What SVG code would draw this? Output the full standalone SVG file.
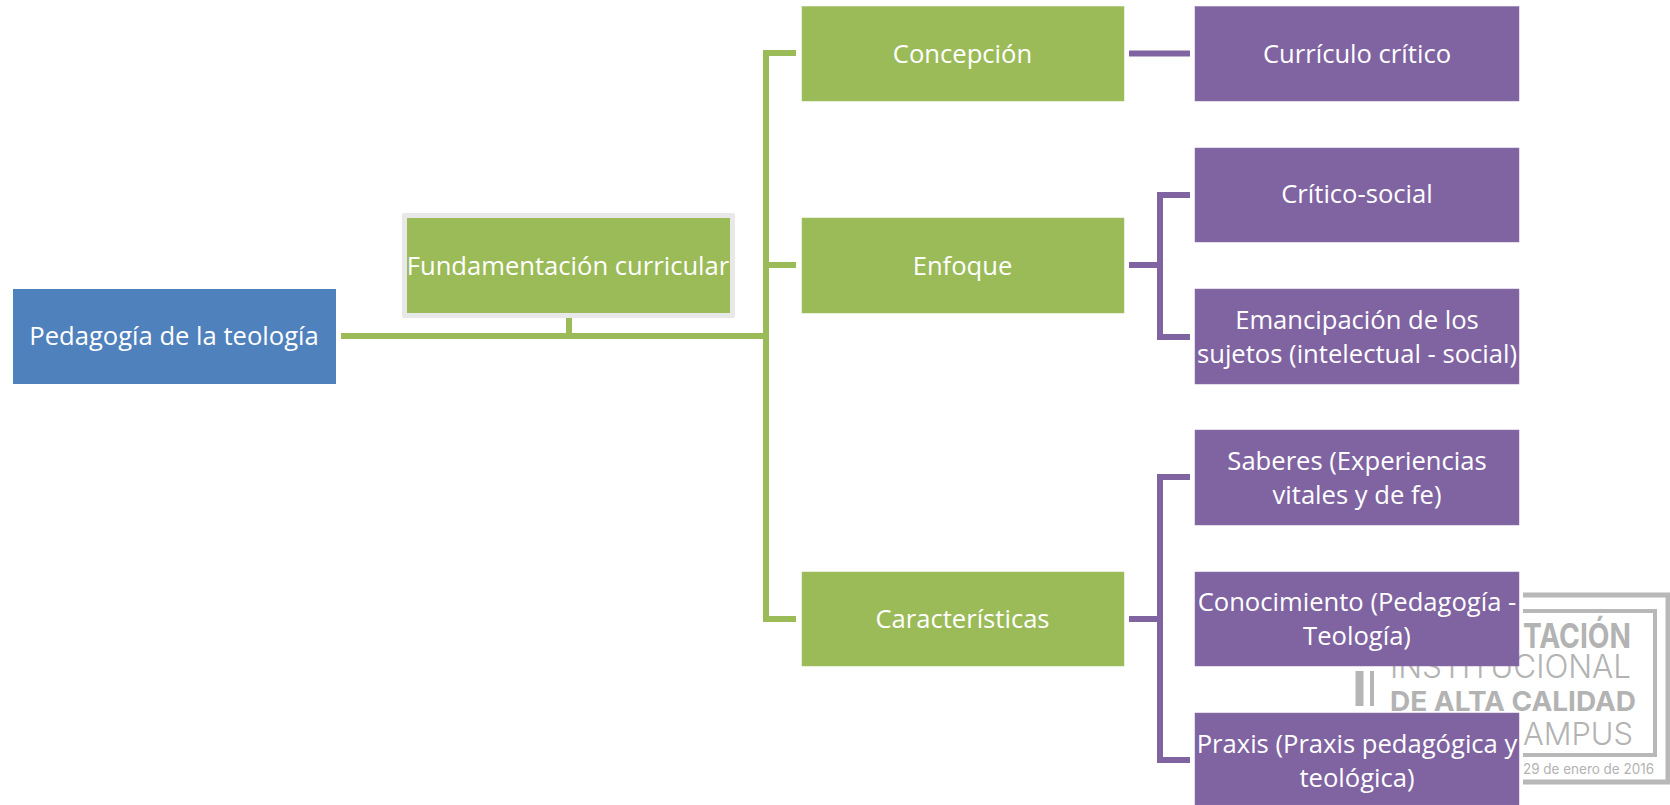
<svg xmlns="http://www.w3.org/2000/svg" width="1670" height="805" viewBox="0 0 1670 805">
<style>
.t{font-family:"Open Sans","Noto Sans",sans-serif;font-size:25.6px;fill:#fff;text-anchor:middle}
.g{fill:#9bbb59;stroke:#a3c067;stroke-width:.5}
.p{fill:#8064a2;stroke:#8a70a9;stroke-width:.5}
.cg{stroke:#9bbb59;stroke-width:6;fill:none}
.cp{stroke:#8064a2;stroke-width:6;fill:none}
.w{font-family:"Inter","Liberation Sans",sans-serif;fill:#b3b3b3}
</style>
<rect width="1670" height="805" fill="#fff"/>
<g id="watermark">
<path d="M1523 595H1668V782H1523" fill="none" stroke="#b8b8b8" stroke-width="5"/>
<path d="M1523 611H1655V755H1523" fill="none" stroke="#b8b8b8" stroke-width="4"/>
<path d="M1359.500 671V706" stroke="#b5b5b5" stroke-width="8"/>
<path d="M1372 671V706" stroke="#b5b5b5" stroke-width="4"/>
<text class="w" x="1523" y="648" font-size="34" font-weight="700" textLength="108" lengthAdjust="spacingAndGlyphs">TACIÓN</text>
<text class="w" x="1390" y="678" font-size="32" font-weight="300" textLength="241" lengthAdjust="spacingAndGlyphs">INSTITUCIONAL</text>
<text class="w" x="1390" y="711" font-size="27" font-weight="700" textLength="246" lengthAdjust="spacingAndGlyphs">DE ALTA CALIDAD</text>
<text class="w" x="1523" y="745" font-size="31" font-weight="300" textLength="110" lengthAdjust="spacingAndGlyphs">AMPUS</text>
<text class="w" x="1523" y="774" font-size="14" textLength="131" lengthAdjust="spacingAndGlyphs">29 de enero de 2016</text>
</g>
<g id="connectors">
<path class="cg" d="M341 336H766M569 318V336M796 53H766V619H796M766 265H796"/>
<path class="cp" d="M1129 53.500H1190"/>
<path class="cp" d="M1129 265H1160M1190 195H1160V337H1190"/>
<path class="cp" d="M1129 619H1160M1190 477H1160V760H1190"/>
</g>
<g id="n-pedagogia"><rect x="13" y="289" width="323" height="95" fill="#4f81bd"/><text class="t" x="174" y="345">Pedagogía de la teología</text></g>
<g id="n-fundamentacion"><rect x="402" y="213" width="333" height="105" rx="2" fill="#e8e8e8"/><rect x="407" y="218" width="323" height="95" fill="#9bbb59"/><text class="t" x="568" y="275">Fundamentación curricular</text></g>
<g id="n-concepcion"><rect class="g" x="802" y="6.500" width="322" height="94.500"/><text class="t" x="962.500" y="63">Concepción</text></g>
<g id="n-enfoque"><rect class="g" x="802" y="218" width="322" height="95"/><text class="t" x="962.500" y="275">Enfoque</text></g>
<g id="n-caracteristicas"><rect class="g" x="802" y="572" width="322" height="94"/><text class="t" x="962.500" y="628">Características</text></g>
<g id="n-curriculo"><rect class="p" x="1195" y="6.500" width="324" height="94.500"/><text class="t" x="1357" y="63">Currículo crítico</text></g>
<g id="n-critico"><rect class="p" x="1195" y="148" width="324" height="94"/><text class="t" x="1357" y="203">Crítico-social</text></g>
<g id="n-emancipacion"><rect class="p" x="1195" y="289" width="324" height="95"/><text class="t" x="1357" y="329">Emancipación de los</text><text class="t" x="1357" y="363">sujetos (intelectual - social)</text></g>
<g id="n-saberes"><rect class="p" x="1195" y="430" width="324" height="95"/><text class="t" x="1357" y="470">Saberes (Experiencias</text><text class="t" x="1357" y="504">vitales y de fe)</text></g>
<g id="n-conocimiento"><rect class="p" x="1195" y="572" width="324" height="94"/><text class="t" x="1357" y="611">Conocimiento (Pedagogía -</text><text class="t" x="1357" y="645">Teología)</text></g>
<g id="n-praxis"><rect class="p" x="1195" y="713" width="324" height="92"/><text class="t" x="1357" y="753">Praxis (Praxis pedagógica y</text><text class="t" x="1357" y="787">teológica)</text></g>
</svg>
